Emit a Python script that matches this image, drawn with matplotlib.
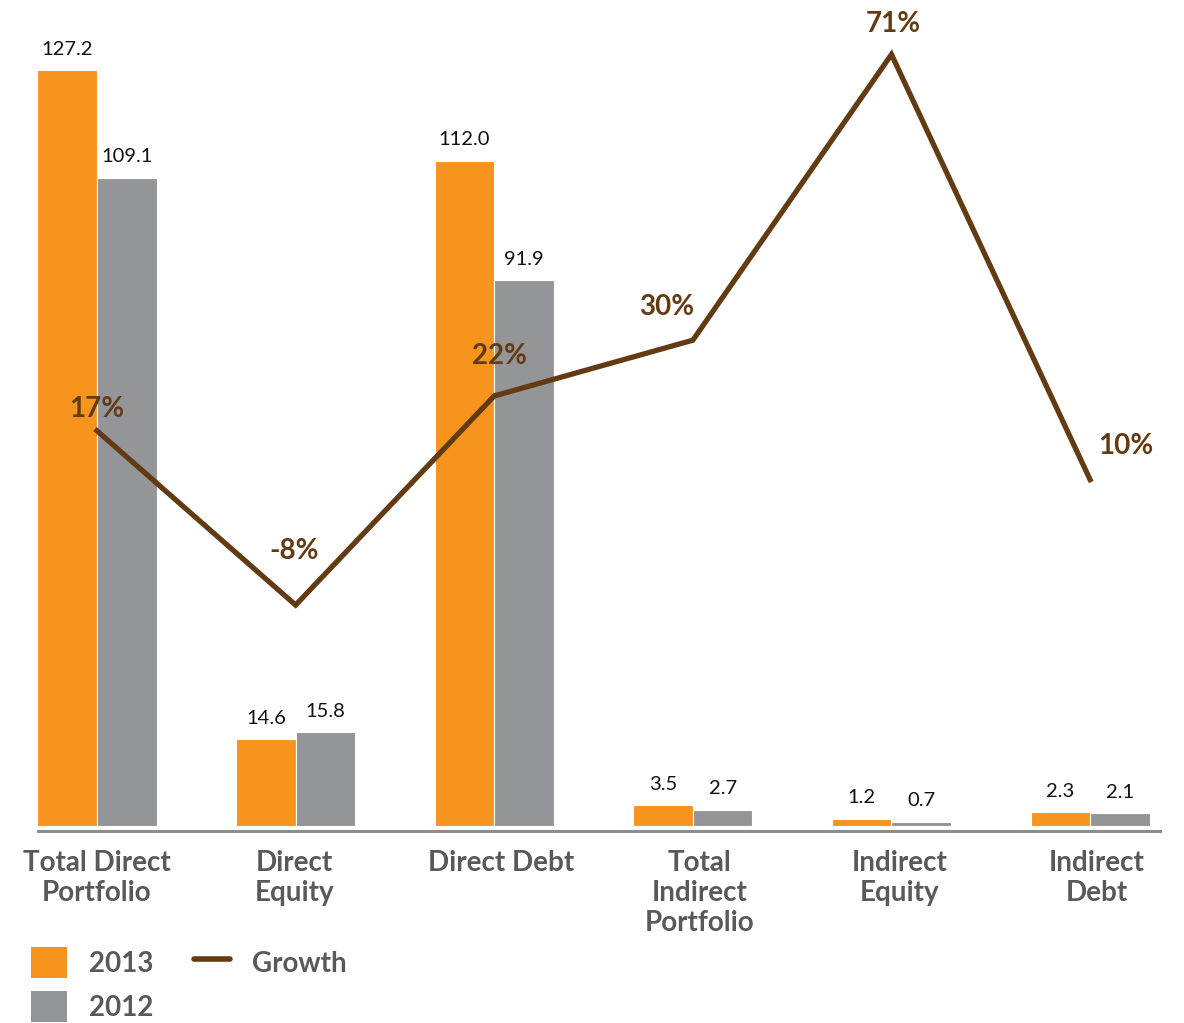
import matplotlib
matplotlib.use("Agg")
import matplotlib.pyplot as plt
import matplotlib.transforms as mtransforms
import numpy as np
from matplotlib.patches import Patch
from matplotlib.lines import Line2D

plt.rcParams['font.family'] = ['Lato', 'DejaVu Sans']

categories = ["Total Direct\nPortfolio", "Direct\nEquity", "Direct Debt",
              "Total\nIndirect\nPortfolio", "Indirect\nEquity", "Indirect\nDebt"]
values_2013 = [127.2, 14.6, 112.0, 3.5, 1.2, 2.3]
values_2012 = [109.1, 15.8, 91.9, 2.7, 0.7, 2.1]
growth = [17, -8, 22, 30, 71, 10]
growth_labels = ["17%", "-8%", "22%", "30%", "71%", "10%"]

# label offsets (points) for growth labels - style only
growth_offsets = [(0, 16), (-1, 39), (4, 29), (-19, 24), (1, 22), (26, 24)]
# horizontal nudges (points) for category labels - style only
tick_nudges = [0, -1, 5, 5, 6, 5]

ORANGE = "#F7941D"
GRAY = "#939598"
BROWN = "#633B13"
TEXT_GRAY = "#595959"

W, H = 1184, 1023
fig = plt.figure(figsize=(W / 100, H / 100), dpi=100)
ax_left, ax_right = 38 / W, 1160 / W
ax_bottom, ax_top = 1 - 831 / H, 1 - 20 / H
ax = fig.add_axes([ax_left, ax_bottom, ax_right - ax_left, ax_top - ax_bottom])

x = np.arange(len(categories))
bw = 0.3
b1 = ax.bar(x - bw / 2, values_2013, bw, color=ORANGE, edgecolor="white", linewidth=0.8)
b2 = ax.bar(x + bw / 2, values_2012, bw, color=GRAY, edgecolor="white", linewidth=0.8)
for bars, vals in ((b1, values_2013), (b2, values_2012)):
    for r, v in zip(bars, vals):
        ax.annotate(f"{v:.1f}", (r.get_x() + r.get_width() / 2, v),
                    xytext=(0, 9), textcoords="offset points",
                    ha="center", va="bottom", fontsize=14.5, color="#111111")

ax.set_xlim(-0.297, 5.352)
ax.set_ylim(-0.85, 135.7)
for s in ("top", "right", "left"):
    ax.spines[s].set_visible(False)
ax.spines["bottom"].set_color("#8C8C8C")
ax.spines["bottom"].set_linewidth(2.2)
ax.set_yticks([])
ax.set_xticks(x)
ax.set_xticklabels(categories, fontsize=20, fontweight="bold", color=TEXT_GRAY,
                   linespacing=1.17)
ax.tick_params(axis="x", length=0, pad=14)
for lbl, dx in zip(ax.get_xticklabels(), tick_nudges):
    lbl.set_transform(lbl.get_transform() +
                      mtransforms.ScaledTranslation(dx / 72, 0, fig.dpi_scale_trans))

ax2 = ax.twinx()
ax2.set_ylim(-40.42, 75.94)
ax2.axis("off")
ax2.plot(x, growth, color=BROWN, linewidth=3.8, solid_joinstyle="miter")
for xi, g, lab, off in zip(x, growth, growth_labels, growth_offsets):
    ax2.annotate(lab, (xi, g), xytext=off, textcoords="offset points",
                 ha="center", va="center", fontsize=20, fontweight="bold", color=BROWN)

handles = [Patch(facecolor=ORANGE, label="2013"),
           Patch(facecolor=GRAY, label="2012"),
           Line2D([0], [0], color=BROWN, linewidth=4, solid_capstyle="round", label="Growth")]
fig.legend(handles=handles, ncol=2, loc="upper left",
           bbox_to_anchor=(31 / W, 1 - 947 / H), frameon=False,
           prop={"size": 20, "weight": "bold"}, labelcolor=TEXT_GRAY,
           handlelength=1.3, handleheight=1.35, handletextpad=0.8,
           columnspacing=1.45, labelspacing=0.45, borderpad=0, borderaxespad=0)

fig.savefig("out.png", dpi=100)
